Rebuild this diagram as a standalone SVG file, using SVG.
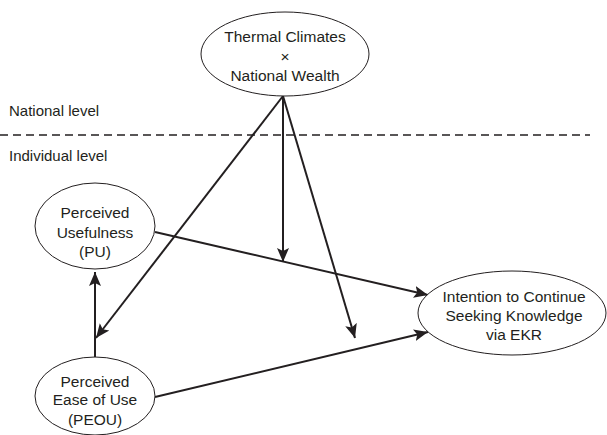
<svg xmlns="http://www.w3.org/2000/svg" width="607" height="435" viewBox="0 0 607 435">
<style>
.node ellipse{fill:#fff;stroke:#231f20;stroke-width:1}
text{font-family:"Liberation Sans",Arial,sans-serif;font-size:15.5px;fill:#231f20}
.lvl{font-size:15px}
.node text{text-anchor:middle}
.edge{stroke:#231f20;stroke-width:2;fill:none;marker-end:url(#ah)}
</style>
<defs>
<marker id="ah" viewBox="-14 -7 15 14" refX="0" refY="0" markerWidth="15" markerHeight="14" orient="auto" markerUnits="userSpaceOnUse">
<path d="M-14,-6 L0,0 L-14,6 L-11,0 z" fill="#231f20"/>
</marker>
</defs>
<rect width="607" height="435" fill="#fff"/>
<line x1="0" y1="135" x2="590" y2="135" stroke="#231f20" stroke-width="1.3" stroke-dasharray="8,5"/>
<text class="lvl" x="9" y="116">National level</text>
<text class="lvl" x="9" y="161">Individual level</text>
<g id="connectors">
<line class="edge" x1="283" y1="96" x2="96" y2="338"/>
<line class="edge" x1="283" y1="96" x2="283" y2="262"/>
<line class="edge" x1="283" y1="96" x2="355" y2="338"/>
<line class="edge" x1="155" y1="232" x2="428" y2="295"/>
<line class="edge" x1="155" y1="397" x2="428" y2="332"/>
<line class="edge" x1="95" y1="358" x2="95" y2="272"/>
</g>
<g id="node-climate" class="node">
<ellipse cx="285" cy="54" rx="84" ry="42"/>
<text x="285" y="42">Thermal Climates</text>
<text x="285" y="61.5">×</text>
<text x="285" y="80.5">National Wealth</text>
</g>
<g id="node-pu" class="node">
<ellipse cx="95" cy="226" rx="60" ry="43"/>
<text x="95" y="218">Perceived</text>
<text x="95" y="238">Usefulness</text>
<text x="95" y="257">(PU)</text>
</g>
<g id="node-peou" class="node">
<ellipse cx="95" cy="396" rx="60" ry="39"/>
<text x="95" y="387">Perceived</text>
<text x="95" y="405">Ease of Use</text>
<text x="95" y="425">(PEOU)</text>
</g>
<g id="node-intention" class="node">
<ellipse cx="512" cy="313" rx="94" ry="42"/>
<text x="514" y="302">Intention to Continue</text>
<text x="514" y="321">Seeking Knowledge</text>
<text x="514" y="340">via EKR</text>
</g>
</svg>
